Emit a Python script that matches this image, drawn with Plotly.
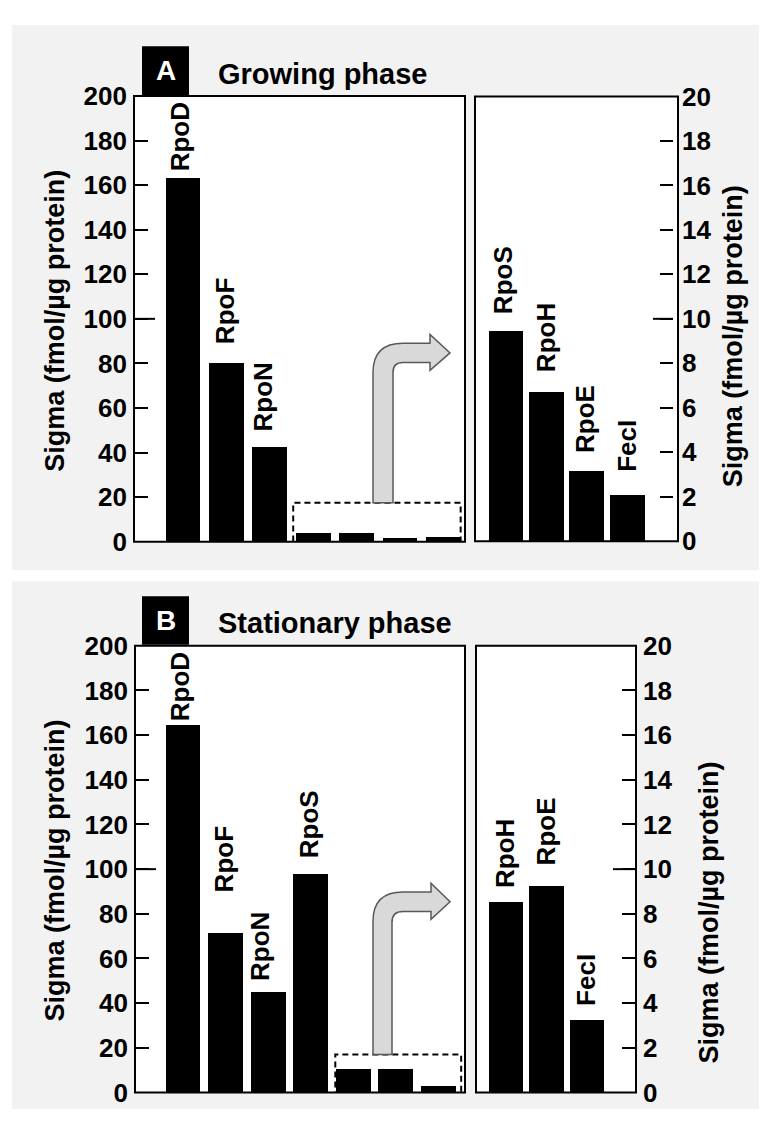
import plotly.graph_objects as go

# ---------------- data ----------------
growing_names = ["RpoD", "RpoF", "RpoN", "RpoS", "RpoH", "RpoE", "FecI"]
growing_values = [163.3, 80.3, 42.4, 3.9, 3.9, 1.7, 2.2]
growing_labeled = ["RpoD", "RpoF", "RpoN"]
growing_zoom_names = ["RpoS", "RpoH", "RpoE", "FecI"]
growing_zoom_values = [9.45, 6.7, 3.15, 2.05]

stationary_names = ["RpoD", "RpoF", "RpoN", "RpoS", "RpoH", "RpoE", "FecI"]
stationary_values = [164.7, 71.5, 45.3, 98.0, 10.5, 10.5, 3.0]
stationary_labeled = ["RpoD", "RpoF", "RpoN", "RpoS"]
stationary_zoom_names = ["RpoH", "RpoE", "FecI"]
stationary_zoom_values = [8.55, 9.25, 3.25]

left_ticks = [0, 20, 40, 60, 80, 100, 120, 140, 160, 180, 200]
right_ticks = [0, 2, 4, 6, 8, 10, 12, 14, 16, 18, 20]
axis_title = "Sigma (fmol/µg protein)"

# ---------------- layout helpers ----------------
# the page body adds an 8px margin, so the figure is made smaller and shifted
PAGE_MARGIN = 8
W, H = 767 - 2 * PAGE_MARGIN, 1133 - 2 * PAGE_MARGIN
FONT = "Liberation Sans, Arial, sans-serif"


def fx(px):
    return (px - PAGE_MARGIN) / W


def fy(py):
    return 1 - (py - PAGE_MARGIN) / H


fig = go.Figure()

panels = [
    # (axis suffix, names, values, x-range, bar width, x px, y px, y max)
    ("", growing_names, growing_values, [-1.13, 6.5], 0.8, (134, 465), (83, 541), 200),
    ("2", growing_zoom_names, growing_zoom_values, [-0.77, 4.26], 0.86, (475, 678), (83.5, 540.5), 20),
    ("3", stationary_names, stationary_values, [-1.13, 6.63], 0.82, (135, 465), (648, 1107), 200),
    ("4", stationary_zoom_names, stationary_zoom_values, [-0.74, 3.21], 0.86, (476, 636), (648, 1107), 20),
]

shapes = []
annotations = []

# grey backgrounds
for (y0, y1) in [(10, 570), (582, 1124)]:
    shapes.append(dict(type="rect", xref="paper", yref="paper", x0=fx(12), x1=fx(759),
                       y0=fy(y1), y1=fy(y0), fillcolor="#f2f2f2", line=dict(width=0), layer="below"))

tickfont = dict(family=FONT, size=26, color="black", weight="bold")

for suf, names, vals, xr, bw, (x0, x1), (y0, y1), ymax in panels:
    xa = "x" + suf
    ya = "y" + suf
    fig.add_trace(go.Bar(x=list(range(len(vals))), y=vals, width=bw, marker=dict(color="black", line=dict(width=0)),
                         hovertext=names, xaxis=xa, yaxis=ya, showlegend=False))
    xkey = "xaxis" + suf
    ykey = "yaxis" + suf
    fig.layout[xkey] = dict(domain=[fx(x0), fx(x1)], range=xr, showticklabels=False, ticks="",
                            showgrid=False, zeroline=False, showline=False, anchor=ya, fixedrange=True)
    ydict = dict(domain=[fy(y1), fy(y0)], range=[0, ymax], tickvals=left_ticks if ymax == 200 else right_ticks,
                 ticks="inside", tickwidth=2, tickcolor="black", showgrid=False, zeroline=False,
                 showline=False, tickfont=tickfont, fixedrange=True)
    if ymax == 200:
        ydict.update(anchor=xa, side="left", ticklen=14, ticklabelstandoff=6)
    elif suf == "2":
        ydict.update(anchor="free", position=fx(673), side="right", ticklen=13, ticklabelstandoff=8)
    else:
        ydict.update(anchor=xa, side="right", ticklen=14, ticklabelstandoff=6)
    fig.layout[ykey] = ydict
    # white plot area and frame
    shapes.append(dict(type="rect", xref=xa + " domain", yref=ya + " domain", x0=0, x1=1, y0=0, y1=1,
                       fillcolor="white", line=dict(width=0), layer="below"))
    shapes.append(dict(type="rect", xref=xa + " domain", yref=ya + " domain", x0=0, x1=1, y0=0, y1=1,
                       line=dict(color="black", width=2), layer="above"))

# longer ticks at the middle value
mid_ticks = [("", 0, 21 / 331, 100), ("2", (653 - 475) / 203, (673 - 475) / 203, 10),
             ("3", 0, 21 / 330, 100), ("4", 1 - 23 / 160, 1, 10)]
for suf, a, b, v in mid_ticks:
    shapes.append(dict(type="line", xref="x" + suf + " domain", yref="y" + suf, x0=a, x1=b, y0=v, y1=v,
                       line=dict(color="black", width=2)))

# bar labels
label_off = {  # (xshift, yshift) in px
    ("", "RpoD"): (-3, 4), ("", "RpoF"): (-2, 17), ("", "RpoN"): (-7, 14),
    ("2", "RpoS"): (-3, 15), ("2", "RpoH"): (-1, 18), ("2", "RpoE"): (-2, 16), ("2", "FecI"): (-1, 22),
    ("3", "RpoD"): (-3, 1), ("3", "RpoF"): (-2, 38), ("3", "RpoN"): (-8, 8), ("3", "RpoS"): (-2, 13),
    ("4", "RpoH"): (-1, 12), ("4", "RpoE"): (-1, 19), ("4", "FecI"): (-1, 12),
}
label_sets = {"": growing_labeled, "2": growing_zoom_names, "3": stationary_labeled, "4": stationary_zoom_names}
for suf, names, vals, *_ in panels:
    for i, (n, v) in enumerate(zip(names, vals)):
        if n in label_sets[suf]:
            xs, ys = label_off[(suf, n)]
            annotations.append(dict(x=i, y=v, xref="x" + suf, yref="y" + suf, text=n, showarrow=False,
                                    textangle=-90, xanchor="center", yanchor="bottom", xshift=xs, yshift=ys,
                                    font=dict(family=FONT, size=26, color="black", weight="bold")))

# dashed zoom boxes
for suf, n_major, n_all, ytop, lpad, rpad in [("", 3, 7, 17.5, 0.46, 0.40), ("3", 4, 7, 17.0, 0.42, 0.54)]:
    shapes.append(dict(type="rect", xref="x" + suf, yref="y" + suf, x0=n_major - lpad, x1=n_all - 1 + rpad,
                       y0=-1.5, y1=ytop, line=dict(color="black", width=2, dash="6px,4px"), layer="above"))


# curved arrows (pixel geometry -> paper)
def arrow_path(xl, xr, yb, ytop, ybar, rad, hx, htop, hbot, tipx):
    ymid = (ytop + ybar) / 2
    pts = [
        ("M", [(xl, yb)]), ("L", [(xl, ytop + rad)]), ("Q", [(xl, ytop), (xl + rad, ytop)]),
        ("L", [(hx, ytop)]), ("L", [(hx, htop)]), ("L", [(tipx, ymid)]), ("L", [(hx, hbot)]),
        ("L", [(hx, ybar)]), ("L", [(xl + rad, ybar)]), ("Q", [(xr, ybar), (xr, ybar + (rad - (xr - xl)))]),
        ("L", [(xr, yb)]),
    ]
    s = ""
    for cmd, ps in pts:
        s += cmd + " ".join("%.5f,%.5f" % (fx(a), fy(b)) for a, b in ps) + " "
    return s + "Z"


for args in [(373, 393, 501, 337, 357, 30, 430, 328, 365, 450),
             (373, 392, 1068, 901, 921, 30, 431, 892, 929, 450)]:
    shapes.append(dict(type="path", xref="paper", yref="paper", path=arrow_path(*args),
                       fillcolor="#d9d9d9", line=dict(color="#595959", width=1.5), layer="above"))

# panel letters and titles
for (by0, by1, letter, title, ty) in [(32, 82, "A", "Growing phase", 60), (597, 647, "B", "Stationary phase", 625)]:
    shapes.append(dict(type="rect", xref="paper", yref="paper", x0=fx(142), x1=fx(189), y0=fy(by1), y1=fy(by0),
                       fillcolor="black", line=dict(width=0)))
    annotations.append(dict(x=fx(165.5), y=fy((by0 + by1) / 2), xref="paper", yref="paper", text=letter,
                            showarrow=False, xanchor="center", yanchor="middle",
                            font=dict(family=FONT, size=28, color="white", weight="bold")))
    annotations.append(dict(x=fx(216), y=fy(ty), xref="paper", yref="paper", text=title,
                            showarrow=False, xanchor="left", yanchor="middle",
                            font=dict(family=FONT, size=29, color="black", weight="bold")))

# axis titles
for (xc, yc) in [(55, 314), (733, 330), (55, 879), (709, 922)]:
    annotations.append(dict(x=fx(xc), y=fy(yc), xref="paper", yref="paper", text=axis_title, showarrow=False,
                            textangle=-90, xanchor="center", yanchor="middle",
                            font=dict(family=FONT, size=27, color="black", weight="bold")))

fig.update_layout(width=W, height=H, margin=dict(l=0, r=0, t=0, b=0), paper_bgcolor="white",
                  plot_bgcolor="white", shapes=shapes, annotations=annotations, bargap=0, showlegend=False)

fig.write_html("out.html")
